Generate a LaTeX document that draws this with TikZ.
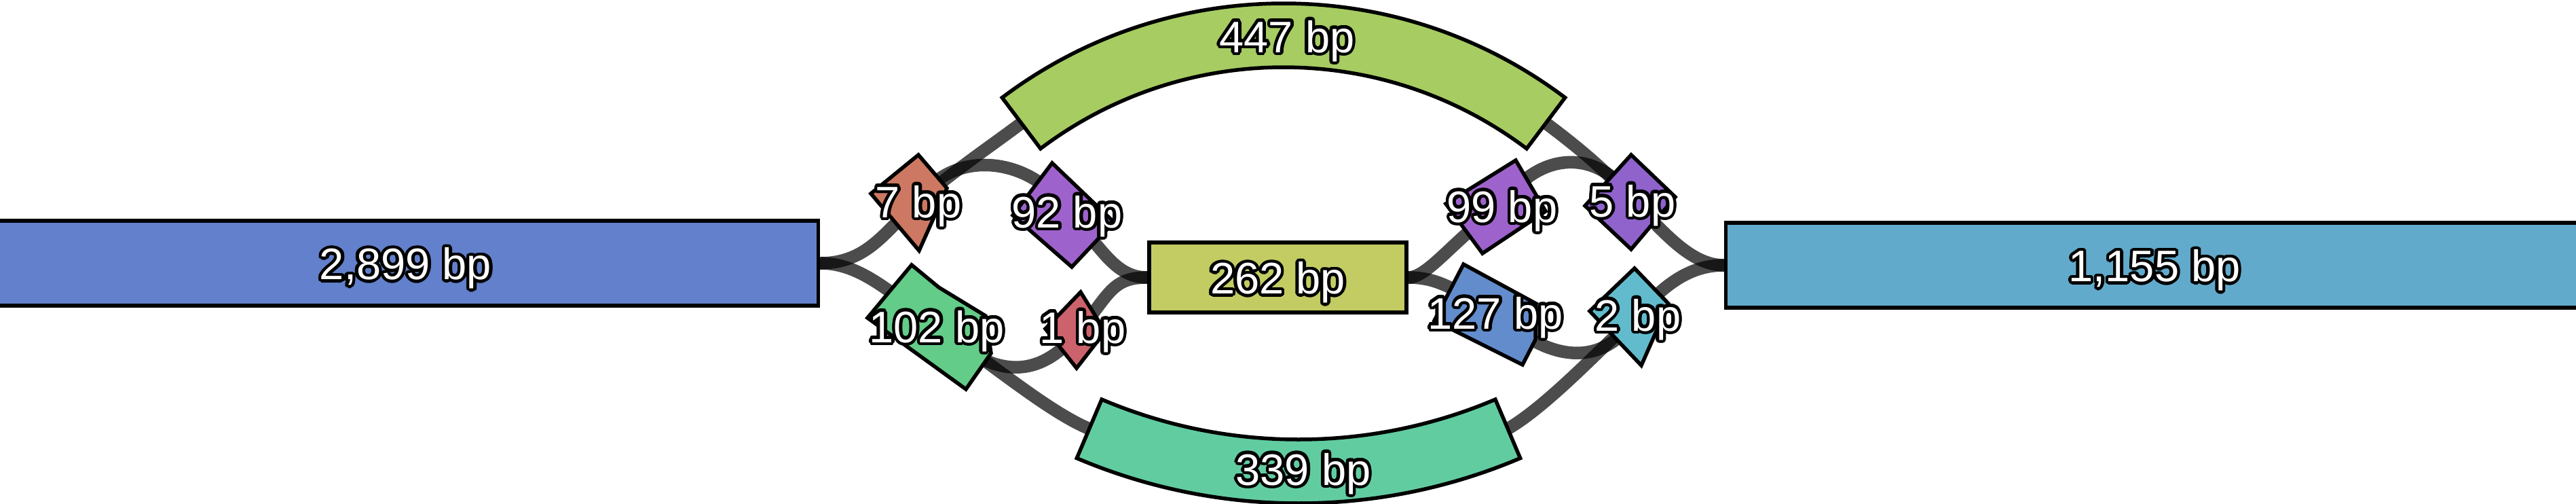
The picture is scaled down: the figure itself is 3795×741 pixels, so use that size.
\documentclass[tikz,border=0pt]{standalone}
\usepackage{fontspec}
\usepackage{xcolor}
\usepackage{tikz}
\usetikzlibrary{calc}

\newfontfamily\lblfont{Liberation Sans}

\pgfdeclarelayer{bg}
\pgfsetlayers{bg,main}

\definecolor{c2899}{RGB}{98,128,203}
\definecolor{c1155}{RGB}{98,170,203}
\definecolor{c447}{RGB}{166,204,98}
\definecolor{c262}{RGB}{194,204,98}
\definecolor{c339}{RGB}{98,204,161}
\definecolor{c7}{RGB}{204,120,98}
\definecolor{c92}{RGB}{158,98,204}
\definecolor{c102}{RGB}{98,204,136}
\definecolor{c1}{RGB}{204,98,108}
\definecolor{c99}{RGB}{158,98,204}
\definecolor{c5}{RGB}{143,98,204}
\definecolor{c127}{RGB}{98,140,204}
\definecolor{c2}{RGB}{98,187,204}

% white text with a black rim
\newsavebox{\lblbox}
\newcommand{\halocopy}[2]{\rlap{\kern#1\raisebox{#2}{\copy\lblbox}}}
\newcommand{\bplabel}[1]{%
  \setbox\lblbox=\hbox{#1}%
  {\color{black}%
  \halocopy{1.3pt}{0pt}\halocopy{-1.3pt}{0pt}\halocopy{0pt}{1.3pt}\halocopy{0pt}{-1.3pt}%
  \halocopy{0.92pt}{0.92pt}\halocopy{-0.92pt}{0.92pt}\halocopy{0.92pt}{-0.92pt}\halocopy{-0.92pt}{-0.92pt}%
  \halocopy{1.2pt}{0.5pt}\halocopy{-1.2pt}{0.5pt}\halocopy{1.2pt}{-0.5pt}\halocopy{-1.2pt}{-0.5pt}%
  \halocopy{0.5pt}{1.2pt}\halocopy{-0.5pt}{1.2pt}\halocopy{0.5pt}{-1.2pt}\halocopy{-0.5pt}{-1.2pt}}%
  {\color{white}\copy\lblbox}}

\begin{document}
\begin{tikzpicture}[
    x=0.01cm, y=-0.01cm,
    contig/.style={draw, line width=0.055cm},
    block/.style={contig, minimum height=1.25cm, inner sep=0pt},
    lbl/.style={font={\lblfont\fontsize{18.5}{21}\selectfont}, text height=17.6pt, text depth=3.9pt, inner sep=0pt},
    link/.style={draw=black, line width=0.185cm, opacity=0.7}
  ]
  \useasboundingbox (0,0) rectangle (3795,741);

  % long contigs
  \node[block, lbl, fill=c2899, minimum width=12.15cm] (b2899) at (597.5,387.5) {\bplabel{2,899 bp}};
  \node[block, lbl, fill=c262, minimum width=3.79cm, minimum height=1.03cm] (b262) at (1882.5,408.5) {\bplabel{262 bp}};
  \node[block, lbl, fill=c1155, minimum width=12.62cm] (b1155) at (3174,390.5) {\bplabel{1,155 bp}};

  % curved contigs
  \coordinate (o447) at (1891,694);
  \coordinate (o339) at (1913,-95);
  \draw[contig, fill=c447] ([shift={(233:689)}]o447) arc[start angle=233, end angle=307, radius=689]
    -- ([shift={(307:595)}]o447) arc[start angle=307, end angle=233, radius=595] -- cycle;
  \coordinate (c447a) at ([shift={(233:642)}]o447);
  \coordinate (c447b) at ([shift={(307:642)}]o447);
  \node[lbl] (k447) at (1896,53) {\bplabel{447 bp}};

  \draw[contig, fill=c339] ([shift={(113:836)}]o339) arc[start angle=113, end angle=67, radius=836]
    -- ([shift={(67:742)}]o339) arc[start angle=67, end angle=113, radius=742] -- cycle;
  \coordinate (c339a) at ([shift={(113:789)}]o339);
  \coordinate (c339b) at ([shift={(67:789)}]o339);
  \node[lbl] (k339) at (1920,690) {\bplabel{339 bp}};

  % short contigs
  \draw[contig, fill=c7] (1353,228) -- (1395,277) -- (1354,369) -- (1283,285) -- cycle;
  \draw[contig, fill=c92] (1550,240) -- (1641,327) -- (1579,393) -- (1492,317) -- cycle;
  \draw[contig, fill=c102] (1343,390) -- (1383,423) -- (1452,465) -- (1460,520) -- (1423,573) -- (1278,468) -- cycle;
  \draw[contig, fill=c1] (1592,430) -- (1628,488) -- (1586,542) -- (1540,484) -- cycle;
  \draw[contig, fill=c99] (2233,236) -- (2277,311) -- (2184,373) -- (2130,300) -- cycle;
  \draw[contig, fill=c5] (2403,228) -- (2468,290) -- (2403,367) -- (2335,303) -- cycle;
  \draw[contig, fill=c127] (2156,389) -- (2263,447) -- (2262,500) -- (2243,537) -- (2113,472) -- cycle;
  \draw[contig, fill=c2] (2408,395) -- (2458,447) -- (2418,538) -- (2342,458) -- cycle;

  \node[lbl] (k7) at (1353,296) {\bplabel{7 bp}};
  \node[lbl] (k92) at (1572,311) {\bplabel{92 bp}};
  \node[lbl] (k102) at (1380,480) {\bplabel{102 bp}};
  \node[lbl] (k1) at (1595,481) {\bplabel{1 bp}};
  \node[lbl] (k99) at (2213,303) {\bplabel{99 bp}};
  \node[lbl] (k5) at (2405,295) {\bplabel{5 bp}};
  \node[lbl] (k127) at (2203,460) {\bplabel{127 bp}};
  \node[lbl] (k2) at (2413,463) {\bplabel{2 bp}};

  % links
  \begin{pgfonlayer}{bg}
    \draw[link] (b2899.east) .. controls +(70,0) and +(-50,45) .. (k7.center);
    \draw[link] (k7.center) .. controls +(60,-50) and +(-48,36) .. (c447a);
    \draw[link] (k7.center) .. controls +(50,-80) and +(-50,-80) .. (k92.center);
    \draw[link] (k92.center) .. controls +(50,50) and +(-50,0) .. (b262.west);
    \draw[link] (b2899.east) .. controls +(60,0) and +(-70,-50) .. (k102.center);
    \draw[link] (k102.center) .. controls +(95,90) and +(-55,70) .. (k1.center);
    \draw[link] (k1.center) .. controls +(40,-50) and +(-50,0) .. (b262.west);
    \draw[link] (k102.center) .. controls +(80,55) and +(-60,-25) .. (c339a);
    \draw[link] (b262.east) .. controls +(30,0) and +(-67,44) .. (k99.center);
    \draw[link] (k99.center) .. controls +(50,-80) and +(-50,-80) .. (k5.center);
    \draw[link] (c447b) .. controls +(48,36) and +(-40,-45) .. (k5.center);
    \draw[link] (k5.center) .. controls +(45,45) and +(-50,0) .. (b1155.west);
    \draw[link] (b262.east) .. controls +(50,0) and +(-55,-28) .. (k127.center);
    \draw[link] (k127.center) .. controls +(80,75) and +(-50,80) .. (k2.center);
    \draw[link] (c339b) .. controls +(60,-35) and +(-50,45) .. (k2.center);
    \draw[link] (k2.center) .. controls +(40,-45) and +(-50,0) .. (b1155.west);
  \end{pgfonlayer}
\end{tikzpicture}
\end{document}
